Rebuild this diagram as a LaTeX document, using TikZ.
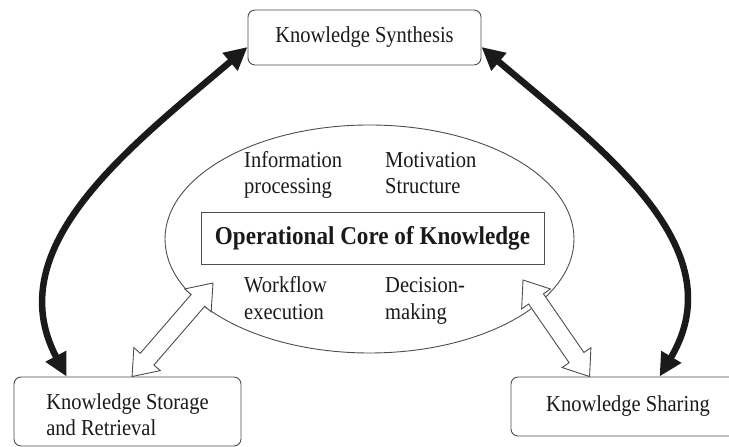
\documentclass[tikz,border=0pt]{standalone}
\usepackage{fontspec}
\setmainfont[FakeStretch=0.9]{Liberation Serif}
\usetikzlibrary{arrows.meta,calc,shapes.geometric}
\definecolor{ink}{HTML}{1A1A1A}
\definecolor{edge}{HTML}{4D4D4D}
\tikzset{
  txt/.style={font=\fontsize{22.8bp}{26bp}\selectfont, text=ink, inner sep=0pt},
  boldtxt/.style={font=\fontsize{25.7bp}{30bp}\selectfont\bfseries, text=ink},
  kbox/.style={draw=edge, line width=0.9bp, rounded corners=7bp, fill=white, txt, align=left},
  heavy/.style={line width=6.5bp, draw=ink, {Triangle[length=23bp,width=22bp]}-{Triangle[length=23bp,width=22bp]}},
  hollow/.style={draw=edge, line width=0.9bp, fill=white, line join=miter}
}
\newcommand{\hollowarr}[2]{%
  \draw[hollow] (#1) -- ($(#1)!28.9bp!37.27:(#2)$) -- ($(#1)!24.7bp!21.37:(#2)$)
    -- ($(#2)!24.7bp!-21.37:(#1)$) -- ($(#2)!28.9bp!-37.27:(#1)$) -- (#2)
    -- ($(#2)!28.9bp!37.27:(#1)$) -- ($(#2)!24.7bp!21.37:(#1)$)
    -- ($(#1)!24.7bp!-21.37:(#2)$) -- ($(#1)!28.9bp!-37.27:(#2)$) -- cycle;}
\begin{document}
\begin{tikzpicture}[x=1bp,y=1bp]
\useasboundingbox (0,0) rectangle (729,447);
% boxes
\node[kbox, minimum width=233bp, minimum height=55bp] (ks) at (364.5,409.5) {Knowledge Synthesis};
\node[draw=edge, line width=0.9bp, rounded corners=7bp, fill=white, minimum width=227bp, minimum height=69bp] (ksr) at (127.5,35.5) {};
\node[txt, align=left] (ksrt) at (127.5,32.5) {Knowledge Storage\\and Retrieval};
\node[kbox, minimum width=234bp, minimum height=59bp] (ksh) at (628,40.5) {Knowledge Sharing};
% ellipse
\node[draw=edge, line width=0.9bp, ellipse, minimum width=409bp, minimum height=228bp, inner sep=0pt] (core) at (369.5,208) {};
\node[draw=edge, line width=0.9bp, minimum width=343bp, minimum height=52bp, boldtxt] (oc) at (372.5,209) {Operational Core of Knowledge};
% inner labels
\node[txt, anchor=base west] (info1) at (244,279) {Information};
\node[txt, anchor=base west] (info2) at (244,253) {processing};
\node[txt, anchor=base west] (mot1) at (385,279) {Motivation};
\node[txt, anchor=base west] (mot2) at (385,253) {Structure};
\node[txt, anchor=base west] (wf1) at (244,154) {Workflow};
\node[txt, anchor=base west] (wf2) at (244,127.5) {execution};
\node[txt, anchor=base west] (dm1) at (385,154) {Decision-};
\node[txt, anchor=base west] (dm2) at (385,127.5) {making};
% hollow double arrows
\coordinate (la1) at (213,164);
\coordinate (la2) at ([xshift=118.5bp]ksr.north west);
\coordinate (ra1) at (523,167);
\coordinate (ra2) at ([xshift=79bp]ksh.north west);
\hollowarr{la1}{la2}
\hollowarr{ra1}{ra2}
% heavy curved arrows
\draw[heavy] ([yshift=-9.5bp]ks.west) .. controls (130,300) and (-2,200) .. ([xshift=53bp]ksr.north west);
\draw[heavy] ([yshift=-9.5bp]ks.east) .. controls (599,300) and (737,200) .. ([xshift=149bp]ksh.north west);
\end{tikzpicture}
\end{document}
